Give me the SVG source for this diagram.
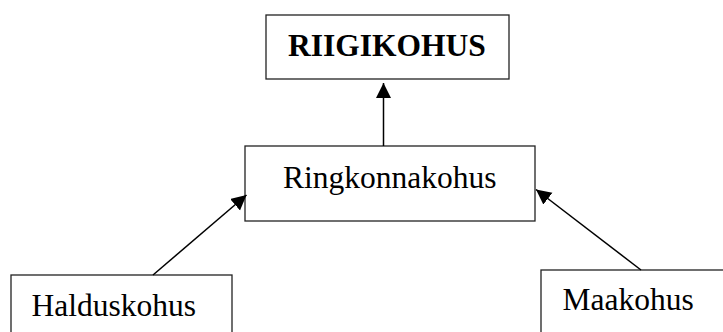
<svg xmlns="http://www.w3.org/2000/svg" width="723" height="332" viewBox="0 0 723 332">
<style>
.box{fill:#fff;stroke:#222;stroke-width:1.3}
.lbl{font-family:"Liberation Serif","Times New Roman",serif;font-size:31.5px;fill:#000}
.b{font-weight:bold}
.con{stroke:#000;stroke-width:1.5;fill:none;marker-end:url(#ah)}
</style>
<defs>
<marker id="ah" markerUnits="userSpaceOnUse" markerWidth="16" markerHeight="16" refX="15" refY="7.5" orient="auto" viewBox="0 0 16 16">
<path d="M0,0 L15,7.5 L0,15 Z" fill="#000"/>
</marker>
</defs>
<rect width="723" height="332" fill="#fff"/>
<g id="riigikohus">
<rect class="box" x="266" y="15" width="243" height="64"/>
<text class="lbl b" x="288" y="56">RIIGIKOHUS</text>
</g>
<g id="ringkonnakohus">
<rect class="box" x="245" y="146" width="290" height="75"/>
<text class="lbl" x="283" y="187.5">Ringkonnakohus</text>
</g>
<g id="halduskohus">
<rect class="box" x="11" y="275" width="221" height="70"/>
<text class="lbl" x="31.5" y="315.5">Halduskohus</text>
</g>
<g id="maakohus">
<rect class="box" x="541" y="270" width="200" height="80"/>
<text class="lbl" x="562.5" y="310">Maakohus</text>
</g>
<g id="connectors">
<line class="con" x1="383.5" y1="146" x2="383.5" y2="83"/>
<line class="con" x1="153" y1="275" x2="246.5" y2="195"/>
<line class="con" x1="641" y1="270" x2="536" y2="189.5"/>
</g>
</svg>
